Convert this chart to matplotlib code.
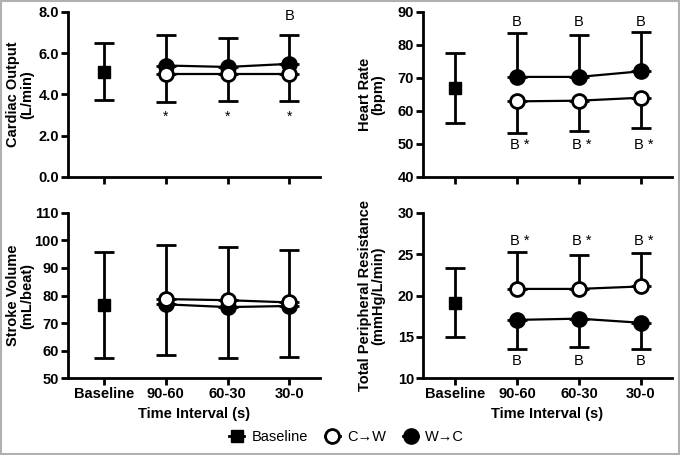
import matplotlib.pyplot as plt
from matplotlib.patches import Rectangle
from matplotlib.lines import Line2D

plt.rcParams['font.family'] = ['Liberation Sans', 'DejaVu Sans']

intervals = ['Baseline', '90-60', '60-30', '30-0']

# cardiac output (L/min)
co_base, co_base_lo, co_base_hi = 5.1, 3.75, 6.5
co_cw = [4.97, 4.97, 4.97]
co_cw_lo = [3.62, 3.68, 3.68]
co_wc = [5.4, 5.33, 5.48]
co_wc_hi = [6.88, 6.72, 6.9]

# heart rate (bpm)
hr_base, hr_base_lo, hr_base_hi = 67.0, 56.3, 77.6
hr_cw = [62.9, 63.1, 64.0]
hr_cw_lo = [53.2, 54.0, 54.8]
hr_wc = [70.3, 70.3, 72.0]
hr_wc_hi = [83.5, 83.1, 83.8]

# stroke volume (mL/beat)
sv_base, sv_base_lo, sv_base_hi = 76.5, 57.2, 95.8
sv_cw = [78.7, 78.3, 77.5]
sv_cw_hi = [98.2, 97.7, 96.7]
sv_wc = [76.8, 75.8, 76.2]
sv_wc_lo = [58.4, 57.3, 57.6]

# total peripheral resistance (mmHg/L/min)
tpr_base, tpr_base_lo, tpr_base_hi = 19.05, 14.95, 23.3
tpr_cw = [20.8, 20.8, 21.1]
tpr_cw_hi = [25.3, 24.9, 25.2]
tpr_wc = [17.05, 17.2, 16.7]
tpr_wc_lo = [13.55, 13.8, 13.55]

fs = 10.5

fig = plt.figure(figsize=(6.8, 4.55), dpi=100)
fig.patches.append(Rectangle((0.002, 0.003), 0.996, 0.994, transform=fig.transFigure,
                             fill=False, edgecolor='#b0b0b0', linewidth=1.5))

ax_co = fig.add_axes([0.100, 0.611, 0.371, 0.363])
ax_hr = fig.add_axes([0.622, 0.611, 0.366, 0.363])
ax_sv = fig.add_axes([0.100, 0.169, 0.371, 0.363])
ax_tpr = fig.add_axes([0.622, 0.169, 0.366, 0.363])

xs = [1, 2, 3]
cap = 7
lw = 2


def base(ax, m, lo, hi):
    ax.errorbar([0], [m], yerr=[[m - lo], [hi - m]], fmt='s', color='black', ms=9,
                capsize=cap, elinewidth=lw, capthick=lw, zorder=3)


def series(ax, vals, ends, up, filled):
    if up:
        err = [[0] * 3, [e - v for v, e in zip(vals, ends)]]
    else:
        err = [[v - e for v, e in zip(vals, ends)], [0] * 3]
    ax.errorbar(xs, vals, yerr=err, fmt='none', ecolor='black', capsize=cap,
                elinewidth=lw, capthick=lw, zorder=2)
    ax.plot(xs, vals, '-o', color='black', lw=1.6, ms=10, mew=2,
            mfc='black' if filled else 'white', zorder=4)


def style(ax, ylim, yticks, fmt, ylabel, xlim, show_x, lab_x):
    ax.set_ylim(*ylim)
    ax.set_yticks(yticks)
    ax.set_yticklabels([fmt.format(t) for t in yticks], fontweight='bold', fontsize=fs)
    ax.set_xlim(*xlim)
    ax.set_xticks(range(4))
    if show_x:
        ax.set_xticklabels(intervals, fontweight='bold', fontsize=fs)
        ax.set_xlabel('Time Interval (s)', fontweight='bold', fontsize=fs, labelpad=4)
    else:
        ax.set_xticklabels([])
    ax.set_ylabel(ylabel, fontweight='bold', fontsize=fs, linespacing=0.95)
    ax.yaxis.set_label_coords(lab_x, 0.5)
    for s in ['top', 'right']:
        ax.spines[s].set_visible(False)
    for s in ['left', 'bottom']:
        ax.spines[s].set_linewidth(2)
    ax.tick_params(width=2, length=5, direction='out', pad=1.5)


# cardiac output
base(ax_co, co_base, co_base_lo, co_base_hi)
series(ax_co, co_wc, co_wc_hi, True, True)
series(ax_co, co_cw, co_cw_lo, False, False)
for x in xs:
    ax_co.text(x, 2.9, '*', ha='center', va='center', fontsize=10)
ax_co.text(3, 7.8, 'B', ha='center', va='center', fontsize=fs)
style(ax_co, (0, 8), [0, 2, 4, 6, 8], '{:.1f}', 'Cardiac Output\n(L/min)', (-0.58, 3.5), False, -0.135)

# heart rate
base(ax_hr, hr_base, hr_base_lo, hr_base_hi)
series(ax_hr, hr_wc, hr_wc_hi, True, True)
series(ax_hr, hr_cw, hr_cw_lo, False, False)
for x in xs:
    ax_hr.text(x, 86.8, 'B', ha='center', va='center', fontsize=fs)
    ax_hr.text(x + 0.05, 49.6, 'B *', ha='center', va='center', fontsize=fs)
style(ax_hr, (40, 90), [40, 50, 60, 70, 80, 90], '{:.0f}', 'Heart Rate\n(bpm)', (-0.52, 3.5), False, -0.15)

# stroke volume
base(ax_sv, sv_base, sv_base_lo, sv_base_hi)
series(ax_sv, sv_cw, sv_cw_hi, True, False)
series(ax_sv, sv_wc, sv_wc_lo, False, True)
ax_sv.lines[-1].set_zorder(3)
style(ax_sv, (50, 110), [50, 60, 70, 80, 90, 100, 110], '{:.0f}', 'Stroke Volume\n(mL/beat)', (-0.58, 3.5), True, -0.135)

# total peripheral resistance
base(ax_tpr, tpr_base, tpr_base_lo, tpr_base_hi)
series(ax_tpr, tpr_cw, tpr_cw_hi, True, False)
series(ax_tpr, tpr_wc, tpr_wc_lo, False, True)
for x in xs:
    ax_tpr.text(x + 0.05, 26.6, 'B *', ha='center', va='center', fontsize=fs)
    ax_tpr.text(x, 12.1, 'B', ha='center', va='center', fontsize=fs)
style(ax_tpr, (10, 30), [10, 15, 20, 25, 30], '{:.0f}', 'Total Peripheral Resistance\n(mmHg/L/min)', (-0.52, 3.5), True, -0.15)

handles = [
    Line2D([], [], color='black', marker='s', ms=9, lw=2),
    Line2D([], [], color='black', marker='o', ms=10, mew=2, mfc='white', lw=2),
    Line2D([], [], color='black', marker='o', ms=10, mew=2, mfc='black', lw=2),
]
fig.legend(handles, ['Baseline', 'C\u2192W', 'W\u2192C'], loc='center', ncol=3,
           bbox_to_anchor=(0.51, 0.04), frameon=False, fontsize=fs,
           handlelength=1.0, handletextpad=0.5, columnspacing=1.2)

fig.savefig('out.png', dpi=100)
